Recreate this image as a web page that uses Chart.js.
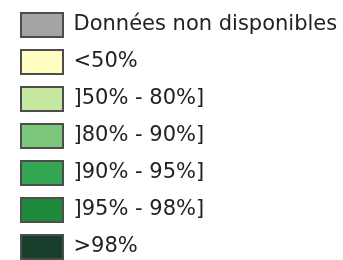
<!DOCTYPE html>
<html>
<head>
<meta charset="utf-8">
<script src="https://cdn.jsdelivr.net/npm/chart.js@4/dist/chart.umd.min.js"></script>
<style>
  html, body { margin: 0; padding: 0; background: #ffffff; overflow: hidden; }
  #wrap { width: 343px; height: 260px; }
</style>
</head>
<body>
<div id="wrap"><canvas id="c" width="343" height="260"></canvas></div>
<script>
const categories = ["Données non disponibles", "<50%", "]50% - 80%]", "]80% - 90%]", "]90% - 95%]", "]95% - 98%]", ">98%"];
const classColors = ["#a4a4a4", "#ffffc4", "#c6e8a0", "#7bc87c", "#33a654", "#1f8a3b", "#173f2b"];
const seriesValues = [[], [], [], [], [], [], []];

const datasets = categories.map((name, i) => ({
  label: name,
  data: seriesValues[i],
  backgroundColor: classColors[i],
  borderColor: "#4d4d4d",
  borderWidth: 2
}));

new Chart(document.getElementById("c"), {
  type: "bar",
  data: { labels: [], datasets: datasets },
  options: {
    responsive: false,
    animation: false,
    layout: { padding: { left: 8, right: 0, top: 0, bottom: 0 } },
    scales: { x: { display: false }, y: { display: false } },
    plugins: {
      tooltip: { enabled: false },
      title: { display: false },
      legend: {
        display: true,
        position: "top",
        align: "start",
        maxHeight: 260,
        labels: {
          boxWidth: 42,
          boxHeight: 24,
          padding: 13,
          color: "#222222",
          font: { family: "DejaVu Sans", size: 21 }
        }
      }
    }
  }
});
</script>
</body>
</html>
